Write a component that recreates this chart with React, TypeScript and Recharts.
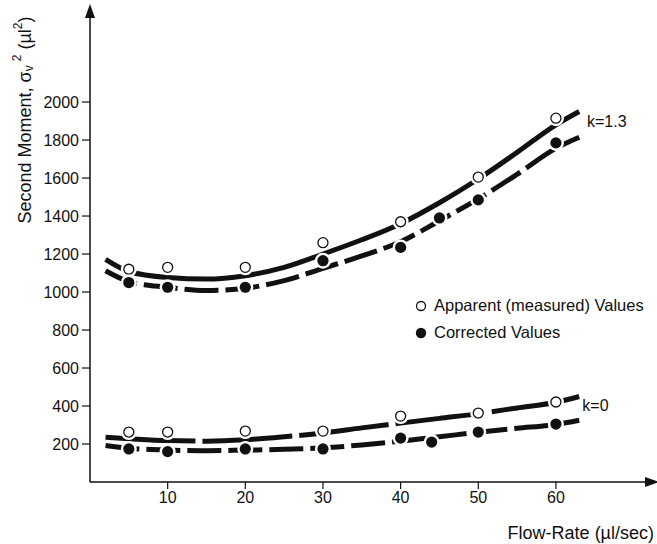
import React from "react";
import {
  ComposedChart,
  Line,
  Scatter,
  XAxis,
  YAxis,
  Label,
  Legend,
  ReferenceDot,
} from "recharts";

// measured points
const flowRate = [5, 10, 20, 30, 40, 50, 60];
const apparentK13 = [1120, 1130, 1130, 1260, 1370, 1605, 1915];
const apparentK0 = [263, 263, 268, 268, 347, 363, 421];

const correctedK13Flow = [5, 10, 20, 30, 40, 45, 50, 60];
const correctedK13 = [1050, 1025, 1025, 1165, 1235, 1390, 1485, 1785];
const correctedK0Flow = [5, 10, 20, 30, 40, 44, 50, 60];
const correctedK0 = [174, 160, 174, 174, 231, 210, 263, 305];

// fitted curves
const fitFlow = [2, 5, 10, 15, 20, 25, 30, 35, 40, 45, 50, 55, 60, 63];
const fitApparentK13 = [1172, 1108, 1076, 1068, 1086, 1130, 1200, 1275, 1360, 1470, 1595, 1735, 1880, 1950];
const fitCorrectedK13 = [1112, 1055, 1025, 1008, 1020, 1060, 1125, 1190, 1265, 1375, 1490, 1620, 1757, 1815];
const fitApparentK0 = [235, 228, 218, 215, 222, 238, 258, 285, 310, 335, 360, 390, 420, 450];
const fitCorrectedK0 = [192, 178, 168, 165, 168, 172, 180, 195, 215, 238, 262, 283, 303, 325];

const xTicks = [10, 20, 30, 40, 50, 60];
const yTicks = [200, 400, 600, 800, 1000, 1200, 1400, 1600, 1800, 2000];
const X_MAX = 72.5;
const Y_MAX = 2474;

const INK = "#111";
const FONT = "'Liberation Sans', Arial, Helvetica, sans-serif";

const toPoints = (xs: number[], ys: number[]) => xs.map((x, i) => ({ x, y: ys[i] }));

const OpenMark = ({ cx, cy }: any) => (
  <g>
    <circle cx={cx} cy={cy} r={8} fill="#fff" />
    <circle cx={cx} cy={cy} r={5} fill="#fff" stroke={INK} strokeWidth={1.3} />
  </g>
);

const FilledMark = ({ cx, cy }: any) => (
  <g>
    <circle cx={cx} cy={cy} r={8} fill="#fff" />
    <circle cx={cx} cy={cy} r={5.6} fill={INK} />
  </g>
);

const UpArrow = ({ cx, cy }: any) => (
  <polygon points={`${cx - 5},${cy + 6} ${cx + 5},${cy + 6} ${cx},${cy - 8}`} fill={INK} />
);

const RightArrow = ({ cx, cy }: any) => (
  <polygon points={`${cx - 8},${cy - 5} ${cx - 8},${cy + 5} ${cx + 6},${cy}`} fill={INK} />
);

const sideLabel = (text: string) => (props: any) => {
  const { viewBox } = props;
  return (
    <text x={viewBox.x} y={viewBox.y} dominantBaseline="middle" fontSize={16} fill={INK} fontFamily={FONT}>
      {text}
    </text>
  );
};

const YTitle = (props: any) => {
  const { viewBox } = props;
  const cx = viewBox.x - 4;
  const cy = 120;
  return (
    <text
      x={cx}
      y={cy}
      transform={`rotate(-90, ${cx}, ${cy})`}
      textAnchor="middle"
      dominantBaseline="middle"
      fontSize={18}
      fill={INK}
      fontFamily={FONT}
    >
      Second Moment, σ
      <tspan fontSize={12} dy={4}>v</tspan>
      <tspan fontSize={12} dy={-12} dx={4}>2</tspan>
      <tspan dy={8}> (µl</tspan>
      <tspan fontSize={12} dy={-7}>2</tspan>
      <tspan dy={7}>)</tspan>
    </text>
  );
};

const XTitle = (props: any) => {
  const { viewBox } = props;
  return (
    <text
      x={viewBox.x + viewBox.width + 1}
      y={viewBox.y + 57}
      textAnchor="end"
      fontSize={18}
      fill={INK}
      fontFamily={FONT}
    >
      Flow-Rate (µl/sec)
    </text>
  );
};

const LegendBox = () => (
  <div style={{ fontFamily: FONT, fontSize: 16.5, color: INK, lineHeight: "27px", whiteSpace: "nowrap" }}>
    <div style={{ display: "flex", alignItems: "center" }}>
      <svg width={14} height={14} style={{ marginRight: 6 }}>
        <circle cx={7} cy={7} r={4.5} fill="#fff" stroke={INK} strokeWidth={1.3} />
      </svg>
      Apparent (measured) Values
    </div>
    <div style={{ display: "flex", alignItems: "center" }}>
      <svg width={14} height={14} style={{ marginRight: 6 }}>
        <circle cx={7} cy={7} r={5.2} fill={INK} />
      </svg>
      Corrected Values
    </div>
  </div>
);

export default function App() {
  return (
    <div style={{ position: "absolute", left: 0, top: 0, background: "#fff" }}>
      <ComposedChart
        width={657}
        height={544}
        margin={{ top: 12, right: 4, bottom: 30, left: 30 }}
        style={{ fontFamily: FONT }}
      >
        <XAxis
          type="number"
          dataKey="x"
          domain={[0, X_MAX]}
          ticks={xTicks}
          height={32}
          tickSize={7}
          tickMargin={3}
          axisLine={{ stroke: INK, strokeWidth: 1.5 }}
          tickLine={{ stroke: INK, strokeWidth: 1.2 }}
          tick={{ fill: INK, fontSize: 16 }}
          allowDataOverflow
        >
          <Label content={<XTitle />} />
        </XAxis>
        <YAxis
          type="number"
          dataKey="y"
          domain={[0, Y_MAX]}
          ticks={yTicks}
          width={60}
          tickSize={8}
          tickMargin={3}
          axisLine={{ stroke: INK, strokeWidth: 1.5 }}
          tickLine={{ stroke: INK, strokeWidth: 1.2 }}
          tick={{ fill: INK, fontSize: 16 }}
          allowDataOverflow
        >
          <Label content={<YTitle />} />
        </YAxis>

        <Line data={toPoints(fitFlow, fitApparentK13)} dataKey="y" type="monotone" stroke={INK}
          strokeWidth={5} dot={false} isAnimationActive={false} />
        <Line data={toPoints(fitFlow, fitCorrectedK13)} dataKey="y" type="monotone" stroke={INK}
          strokeWidth={5} strokeDasharray="34 7" dot={false} isAnimationActive={false} />
        <Line data={toPoints(fitFlow, fitApparentK0)} dataKey="y" type="monotone" stroke={INK}
          strokeWidth={5} strokeDasharray="90 7" dot={false} isAnimationActive={false} />
        <Line data={toPoints(fitFlow, fitCorrectedK0)} dataKey="y" type="monotone" stroke={INK}
          strokeWidth={5} strokeDasharray="34 7" dot={false} isAnimationActive={false} />

        <Scatter data={toPoints(flowRate, apparentK13)} dataKey="y" shape={<OpenMark />} isAnimationActive={false} />
        <Scatter data={toPoints(flowRate, apparentK0)} dataKey="y" shape={<OpenMark />} isAnimationActive={false} />
        <Scatter data={toPoints(correctedK13Flow, correctedK13)} dataKey="y" shape={<FilledMark />} isAnimationActive={false} />
        <Scatter data={toPoints(correctedK0Flow, correctedK0)} dataKey="y" shape={<FilledMark />} isAnimationActive={false} />

        <ReferenceDot x={64} y={1890} r={0} fill="none" stroke="none" label={sideLabel("k=1.3")} />
        <ReferenceDot x={63.4} y={395} r={0} fill="none" stroke="none" label={sideLabel("k=0")} />

        <ReferenceDot x={0} y={Y_MAX} shape={<UpArrow />} ifOverflow="visible" />
        <ReferenceDot x={X_MAX} y={0} shape={<RightArrow />} ifOverflow="visible" />

        <Legend
          layout="horizontal"
          verticalAlign="middle"
          content={<LegendBox />}
          wrapperStyle={{ position: "absolute", left: 414, top: 292, width: 240 }}
        />
      </ComposedChart>
    </div>
  );
}
